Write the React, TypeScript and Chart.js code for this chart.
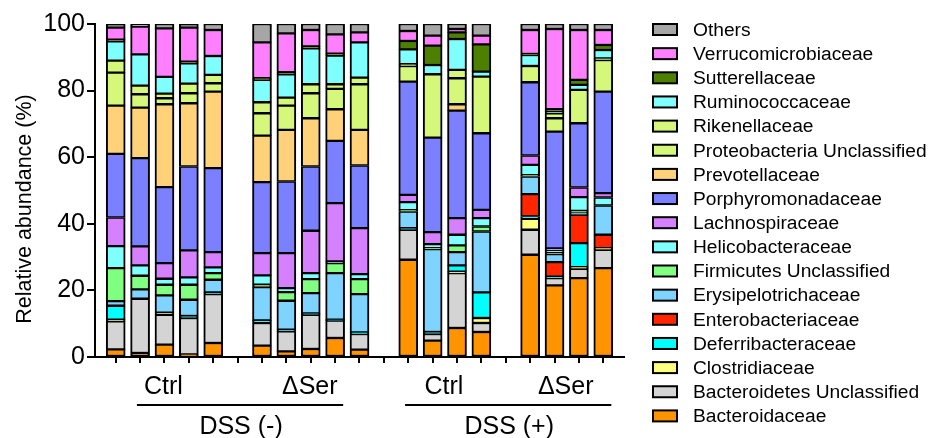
import React, { useEffect, useRef } from 'react';
import { Chart, registerables } from 'chart.js';

Chart.register(...registerables);

// ---- categories / groups ----
const groupLabels = ['Ctrl', 'ΔSer', 'Ctrl', 'ΔSer'];
const groupSizes = [5, 5, 4, 4];
const treatmentLabels = ['DSS (-)', 'DSS (+)'];
const yTickValues = [0, 20, 40, 60, 80, 100];
const yTitle = 'Relative abundance (%)';

// stack order: bottom -> top
const families = [
  'Bacteroidaceae',
  'Bacteroidetes Unclassified',
  'Clostridiaceae',
  'Deferribacteraceae',
  'Enterobacteriaceae',
  'Erysipelotrichaceae',
  'Firmicutes Unclassified',
  'Helicobacteraceae',
  'Lachnospiraceae',
  'Porphyromonadaceae',
  'Prevotellaceae',
  'Proteobacteria Unclassified',
  'Rikenellaceae',
  'Ruminococcaceae',
  'Sutterellaceae',
  'Verrucomicrobiaceae',
  'Others',
];

const familyColors = [
  '#FF9300',
  '#D4D4D4',
  '#FFFF80',
  '#00FFFF',
  '#FF2600',
  '#7FD4FF',
  '#80FF80',
  '#80FFFF',
  '#D580FF',
  '#7A80FF',
  '#FFD27A',
  '#D5F87A',
  '#D5F87A',
  '#80FFFF',
  '#4E8000',
  '#FF80FF',
  '#A6A6A6',
];

// ---- values per family (18 samples, %) ----
const bacteroidaceae = [2.3, 1.2, 3.7, 0.8, 4.2, 3.4, 1.7, 2.4, 5.7, 2.2, 29.2, 4.9, 8.7, 7.5, 30.7, 21.5, 23.7, 26.7];
const bacteroidetesUnclassified = [8.4, 16.3, 9.0, 10.9, 14.7, 6.8, 6.0, 10.3, 5.2, 4.7, 9.0, 2.0, 16.5, 2.7, 7.5, 2.2, 2.8, 5.5];
const clostridiaceae = [0.5, 0, 0.6, 0, 0, 0, 0, 0, 0, 0, 0, 0, 0.4, 1.5, 3.3, 0, 0.5, 0.5];
const deferribacteraceae = [4.2, 0, 0, 0.6, 0.5, 0.8, 0.5, 0.4, 0.3, 0.5, 0.5, 0.6, 1.9, 7.7, 0.7, 0.4, 7.2, 0];
const enterobacteriaceae = [0, 0, 0, 0, 0, 0, 0, 0, 0, 0, 0, 0, 0, 0, 6.7, 4.4, 8.5, 4.0];
const erysipelotrichaceae = [1.4, 2.8, 5.2, 4.9, 3.8, 10.0, 8.7, 6.1, 14.0, 11.5, 5.0, 24.9, 4.0, 18.3, 5.3, 2.4, 0.6, 8.8];
const firmicutesUnclassified = [9.9, 4.1, 3.2, 4.5, 2.0, 0.7, 2.6, 4.2, 3.0, 4.5, 0.4, 0.3, 2.0, 1.5, 0.4, 0.5, 0.6, 0];
const helicobacteraceae = [6.6, 3.1, 1.8, 2.2, 1.7, 2.8, 1.2, 1.8, 0.5, 1.5, 2.4, 1.2, 3.2, 2.5, 3.1, 0.6, 4.1, 2.4];
const lachnospiraceae = [8.6, 5.7, 4.7, 8.1, 4.6, 6.7, 10.5, 12.7, 17.5, 13.8, 2.2, 3.6, 5.0, 2.5, 2.8, 0.6, 2.9, 1.3];
const porphyromonadaceae = [19.1, 26.5, 22.8, 25.2, 25.2, 21.3, 21.5, 19.3, 18.7, 18.8, 34.0, 28.4, 32.3, 23.0, 22.0, 35.1, 19.3, 30.5];
const prevotellaceae = [14.5, 15.2, 24.9, 19.0, 23.0, 14.0, 15.5, 14.5, 9.5, 10.7, 0, 0, 1.9, 0, 0, 0, 0, 0];
const proteobacteriaUnclassified = [9.9, 4.0, 1.8, 3.0, 2.5, 6.7, 7.3, 7.5, 6.1, 13.7, 4.7, 19.0, 7.8, 17.0, 4.9, 4.0, 10.0, 9.5];
const rikenellaceae = [3.6, 2.6, 1.4, 2.9, 2.5, 3.3, 2.4, 2.7, 1.4, 2.0, 0.5, 0, 2.5, 0, 0, 1.5, 0, 0.5];
const ruminococcaceae = [5.8, 9.4, 5.0, 6.1, 5.7, 6.7, 7.0, 10.8, 8.6, 10.6, 4.5, 2.8, 9.3, 1.5, 3.3, 0.6, 1.5, 2.5];
const sutterellaceae = [0.5, 0, 0, 0.5, 0, 0.5, 0.6, 0.6, 0.6, 0, 2.5, 5.8, 2.0, 8.2, 0.3, 0.6, 1.5, 1.5];
const verrucomicrobiaceae = [3.6, 8.3, 14.6, 10.2, 7.8, 10.8, 11.7, 4.9, 5.8, 3.0, 3.0, 3.0, 1.0, 2.6, 7.2, 24.1, 15.0, 4.5];
const others = [1.1, 0.8, 1.3, 1.1, 1.8, 5.5, 2.8, 1.8, 3.1, 2.5, 2.1, 3.5, 1.5, 3.5, 1.8, 1.5, 1.8, 1.8];

const seriesValues = [
  bacteroidaceae,
  bacteroidetesUnclassified,
  clostridiaceae,
  deferribacteraceae,
  enterobacteriaceae,
  erysipelotrichaceae,
  firmicutesUnclassified,
  helicobacteraceae,
  lachnospiraceae,
  porphyromonadaceae,
  prevotellaceae,
  proteobacteriaUnclassified,
  rikenellaceae,
  ruminococcaceae,
  sutterellaceae,
  verrucomicrobiaceae,
  others,
];

// slot positions: one empty slot between groups
const groupSlots: number[][] = [];
{
  let s = 0;
  groupSizes.forEach((n) => {
    const arr: number[] = [];
    for (let j = 0; j < n; j++) arr.push(s++);
    groupSlots.push(arr);
    s++;
  });
}
const barSlots = groupSlots.flat();
const lastSlot = barSlots[barSlots.length - 1];

const FONT = '"Liberation Sans", Arial, Helvetica, sans-serif';
const f = (px: number) => `${px}px ${FONT}`;

const annotations = {
  id: 'annotations',
  afterDraw(chart: any) {
    const { ctx } = chart;
    const xs = chart.scales.x;
    ctx.save();
    ctx.fillStyle = '#000';
    ctx.strokeStyle = '#000';

    // y-axis title
    ctx.save();
    ctx.translate(25, 209);
    ctx.rotate(-Math.PI / 2);
    ctx.font = f(21.5);
    ctx.textAlign = 'center';
    ctx.textBaseline = 'middle';
    ctx.fillText(yTitle, 0, 0);
    ctx.restore();

    // group labels
    ctx.font = f(25);
    ctx.textAlign = 'center';
    ctx.textBaseline = 'alphabetic';
    groupSlots.forEach((slots, i) => {
      const c = (slots[0] + slots[slots.length - 1]) / 2;
      ctx.fillText(groupLabels[i], xs.getPixelForValue(c) - 1, 394);
    });

    // treatment lines + labels (centred on the gap between paired groups)
    treatmentLabels.forEach((t, k) => {
      const a = groupSlots[2 * k];
      const b = groupSlots[2 * k + 1];
      const mid = (a[a.length - 1] + b[0]) / 2 + 0.1;
      const x1 = xs.getPixelForValue(mid - 4.23);
      const x2 = xs.getPixelForValue(mid + 4.23);
      ctx.lineWidth = 2;
      ctx.beginPath();
      ctx.moveTo(x1, 405);
      ctx.lineTo(x2, 405);
      ctx.stroke();
      ctx.fillText(t, (x1 + x2) / 2 + 1, 433.5);
    });

    // legend (top = last dataset)
    const ds = chart.data.datasets;
    ctx.font = f(19.2);
    ctx.textAlign = 'left';
    ctx.textBaseline = 'middle';
    const n = ds.length;
    for (let i = 0; i < n; i++) {
      const d = ds[n - 1 - i];
      const cy = 29.5 + i * 24.15;
      const bx = 652, bw = 26, bh = 13;
      ctx.fillStyle = '#000';
      ctx.fillRect(bx, cy - bh / 2, bw, bh);
      ctx.fillStyle = d.backgroundColor;
      ctx.fillRect(bx + 2, cy - bh / 2 + 2, bw - 4, bh - 4);
      ctx.fillStyle = '#000';
      ctx.fillText(d.label, 693, cy + 1);
    }
    ctx.restore();
  },
};

export default function App() {
  const ref = useRef<HTMLCanvasElement | null>(null);

  useEffect(() => {
    if (!ref.current) return;
    const datasets = families.map((name, i) => ({
      label: name,
      data: seriesValues[i].map((v, j) => ({ x: barSlots[j], y: v })),
      backgroundColor: familyColors[i],
      borderColor: '#000',
      borderWidth: { top: 1.5, bottom: 1.5, left: 2, right: 2 },
      borderSkipped: false,
      barThickness: 19,
    }));

    const chart = new Chart(ref.current, {
      type: 'bar',
      data: { datasets },
      options: {
        animation: false,
        responsive: false,
        maintainAspectRatio: false,
        devicePixelRatio: 1,
        layout: { padding: { left: 0, top: 24, right: 305, bottom: 0 } },
        plugins: {
          legend: { display: false },
          tooltip: { enabled: false },
          title: { display: false },
        },
        scales: {
          x: {
            type: 'linear',
            stacked: true,
            offset: false,
            min: -0.85,
            max: lastSlot + 0.85,
            afterBuildTicks: (s: any) => {
              const t = [];
              for (let v = 0; v <= lastSlot; v++) t.push({ value: v });
              s.ticks = t;
            },
            afterFit: (s: any) => {
              s.height = 81;
            },
            ticks: { display: true, autoSkip: false, callback: () => '' },
            grid: {
              offset: false,
              drawOnChartArea: false,
              drawTicks: true,
              tickLength: 6,
              color: '#000',
              lineWidth: 2,
            },
            border: { display: true, color: '#000', width: 2 },
          },
          y: {
            type: 'linear',
            stacked: true,
            min: 0,
            max: 100,
            afterBuildTicks: (s: any) => {
              s.ticks = yTickValues.map((v) => ({ value: v }));
            },
            afterFit: (s: any) => {
              s.width = 95;
            },
            ticks: {
              color: '#000',
              font: { family: FONT, size: 25 },
              padding: 2,
              callback: (v: any) => String(v),
            },
            grid: {
              drawOnChartArea: false,
              drawTicks: true,
              tickLength: 8,
              color: '#000',
              lineWidth: 2,
            },
            border: { display: true, color: '#000', width: 2 },
          },
        },
      },
      plugins: [annotations],
    });
    return () => chart.destroy();
  }, []);

  return (
    <div style={{ position: 'fixed', left: 0, top: 0, width: 929, height: 438, background: '#fff' }}>
      <canvas ref={ref} width={929} height={438} style={{ width: 929, height: 438, display: 'block' }} />
    </div>
  );
}
